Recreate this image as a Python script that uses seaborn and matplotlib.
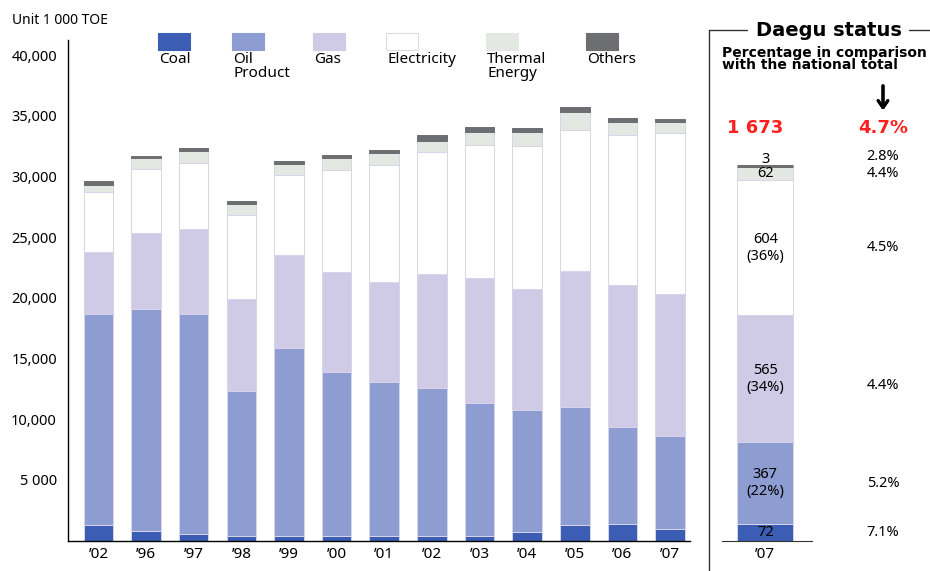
import numpy as np
import seaborn as sns
import matplotlib.pyplot as plt
from matplotlib.patches import Rectangle
from matplotlib.lines import Line2D
from matplotlib.transforms import blended_transform_factory

# ---- data (1 000 TOE) ----
periods = ["’02", "’96", "’97", "’98", "’99", "’00", "’01", "’02", "’03", "’04", "’05", "’06", "’07"]
coal = [1280, 810, 560, 370, 370, 370, 370, 370, 370, 700, 1280, 1390, 950]
oil = [17420, 18260, 18140, 11930, 15530, 13490, 12690, 12190, 10930, 10040, 9720, 7950, 7700]
gas = [5040, 6230, 7000, 7600, 7600, 8240, 8210, 9440, 10300, 9960, 11230, 11710, 11680]
electricity = [4990, 5280, 5400, 6900, 6600, 8450, 9670, 10040, 11000, 11800, 11630, 12350, 13250]
thermal = [530, 920, 1000, 900, 900, 950, 990, 910, 1100, 1160, 1440, 1100, 880]
others = [380, 200, 240, 260, 300, 260, 240, 500, 370, 340, 380, 290, 310]

sources = ["Coal", "Oil\nProduct", "Gas", "Electricity", "Thermal\nEnergy", "Others"]
colors = ["#3b5db3", "#8d9cd1", "#cfcbe6", "#ffffff", "#e3e8e3", "#6d6e71"]

# Daegu 2007
daegu_year = ["’07"]
daegu_vals = [72, 367, 565, 604, 62, 3]
daegu_labels = ["72", "367\n(22%)", "565\n(34%)", "604\n(36%)", "62", "3"]
daegu_national_pct = ["7.1%", "5.2%", "4.4%", "4.5%", "4.4%", "2.8%"]
daegu_total = "1 673"
daegu_total_pct = "4.7%"

yticks = [5000, 10000, 15000, 20000, 25000, 30000, 35000, 40000]
ytick_labels = ["5 000", "10,000", "15,000", "20,000", "25,000", "30,000", "35,000", "40,000"]

sns.set_style("white")
plt.rcParams["font.family"] = ["Noto Sans", "DejaVu Sans"]
plt.rcParams["text.color"] = "black"
plt.rcParams["xtick.color"] = "black"
plt.rcParams["ytick.color"] = "black"
bold_font = ["DejaVu Sans"]

W, H = 930, 571
fig = plt.figure(figsize=(W / 100, H / 100), dpi=100)


def fx(x):
    return x / W


def fy(y):
    return 1 - y / H


edge = "#d8d5ea"

# ---- main chart ----
ax = fig.add_axes([fx(68), fy(540.5), fx(690) - fx(68), fy(40) - fy(540.5)])
series = [coal, oil, gas, electricity, thermal, others]
pos = list(range(len(periods)))
bottom = np.zeros(len(periods))
for vals, c in zip(series, colors):
    ec = c if c == colors[-1] else edge
    sns.barplot(x=pos, y=vals, bottom=bottom, color=c, saturation=1, width=0.62,
                edgecolor=ec, linewidth=0.7, errorbar=None, ax=ax)
    bottom = bottom + np.array(vals)

ax.set_xlim(-0.64, 12.42)
ax.set_ylim(0, 41240)
ax.set_xticks(pos)
ax.set_xticklabels(periods, fontsize=11)
ax.set_yticks(yticks)
ax.set_yticklabels(ytick_labels, fontsize=10.5)
ax.tick_params(axis="x", length=0, pad=5)
ax.tick_params(axis="y", direction="out", length=7, width=1, pad=1)
for s in ["top", "right"]:
    ax.spines[s].set_visible(False)
for s in ["left", "bottom"]:
    ax.spines[s].set_color("black")
    ax.spines[s].set_linewidth(1)
ax.set_xlabel("")
ax.set_ylabel("")

fig.text(fx(12), fy(20), "Unit 1 000 TOE", fontsize=10, va="center", ha="left")

# legend drawn by hand (labels under the swatches)
leg_x = [158, 232, 313, 386, 486, 586]
for lx, name, c in zip(leg_x, sources, colors):
    fig.add_artist(Rectangle((fx(lx), fy(50)), fx(32), fy(33) - fy(50),
                             transform=fig.transFigure, facecolor=c,
                             edgecolor="#dddddd" if c == "#ffffff" else c, lw=0.8))
    fig.text(fx(lx + 1), fy(52), name, fontsize=11, va="top", ha="left", linespacing=0.9)

# ---- Daegu panel ----
ax2 = fig.add_axes([fx(722), fy(540.5), fx(812) - fx(722), fy(40) - fy(540.5)])
bottom2 = 0.0
mids = []
for v, c in zip(daegu_vals, colors):
    ec = c if c == colors[-1] else edge
    lw = 2.2 if c == colors[-1] else 0.7
    sns.barplot(x=daegu_year, y=[v], bottom=[bottom2], color=c, saturation=1, width=1.0,
                edgecolor=ec, linewidth=lw, errorbar=None, ax=ax2)
    mids.append(bottom2 + v / 2)
    bottom2 += v
total = bottom2
ax2.set_xlim(-0.77, 0.83)
ax2.set_ylim(0, 2233)
ax2.set_yticks([])
ax2.tick_params(axis="x", length=0, pad=5, labelsize=11)
for s in ["top", "right", "left"]:
    ax2.spines[s].set_visible(False)
ax2.spines["bottom"].set_color("#333333")
ax2.set_xlabel("")
ax2.set_ylabel("")

label_y = list(mids)
label_y[5] = total + 28
pct_y = list(mids)
pct_y[5] = total + 38
pct_y[2] = mids[2] - 30
for lab, yv in zip(daegu_labels, label_y):
    ax2.text(0, yv, lab, ha="center", va="center", fontsize=10.5, linespacing=1.15, clip_on=False)
tr = blended_transform_factory(fig.transFigure, ax2.transData)
for p, yv in zip(daegu_national_pct, pct_y):
    ax2.text(fx(883), yv, p, transform=tr, ha="center", va="center", fontsize=10.5, clip_on=False)

fig.text(fx(755), fy(128), daegu_total, color="#ff1f1f", fontsize=13, fontweight="bold",
         family=bold_font, ha="center", va="center")
fig.text(fx(883), fy(128), daegu_total_pct, color="#ff1f1f", fontsize=13, fontweight="bold",
         family=bold_font, ha="center", va="center")
fig.text(fx(722), fy(46), "Percentage in comparison\nwith the national total", fontsize=10,
         fontweight="bold", family=bold_font, ha="left", va="top", linespacing=0.85)
fig.text(fx(829), fy(30), "Daegu status", fontsize=14, fontweight="bold", family=bold_font,
         ha="center", va="center")
fig.add_artist(Line2D([fx(709), fx(709)], [fy(30), fy(575)], transform=fig.transFigure,
                      color="#333333", lw=1))
fig.add_artist(Line2D([fx(709), fx(747)], [fy(30), fy(30)], transform=fig.transFigure,
                      color="#333333", lw=1))
fig.add_artist(Line2D([fx(909), fx(932)], [fy(30), fy(30)], transform=fig.transFigure,
                      color="#333333", lw=1))
fig.add_artist(plt.annotate("", xy=(fx(883), fy(113)), xytext=(fx(883), fy(83)),
                            xycoords="figure fraction", textcoords="figure fraction",
                            arrowprops=dict(arrowstyle="->,head_length=0.5,head_width=0.35",
                                            lw=2.2, color="black")))

fig.savefig("out.png", dpi=100)
